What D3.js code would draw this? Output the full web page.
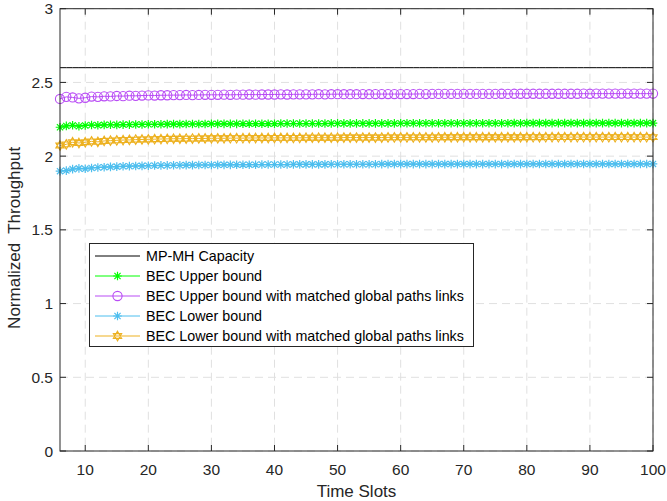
<!DOCTYPE html>
<html><head><meta charset="utf-8">
<script src="https://cdn.jsdelivr.net/npm/d3@7"></script>
<style>body{margin:0;background:#fff}svg{display:block;font-family:"Liberation Sans",Arial,sans-serif}</style>
</head><body><svg id="c" width="667" height="501"></svg>
<script>
const timeSlots = [6,7,8,9,10,11,12,13,14,15,16,17,18,19,20,21,22,23,24,25,26,27,28,29,30,31,32,33,34,35,36,37,38,39,40,41,42,43,44,45,46,47,48,49,50,51,52,53,54,55,56,57,58,59,60,61,62,63,64,65,66,67,68,69,70,71,72,73,74,75,76,77,78,79,80,81,82,83,84,85,86,87,88,89,90,91,92,93,94,95,96,97,98,99,100];
const capacity = 2.6;
const upperMatched = [2.388,2.402,2.398,2.392,2.396,2.404,2.402,2.406,2.405,2.408,
2.407,2.410,2.409,2.411,2.412,2.411,2.413,2.413,2.414,2.414,
2.415,2.414,2.415,2.416,2.416,2.416,2.417,2.416,2.417,2.417,
2.418,2.417,2.418,2.418,2.418,2.419,2.418,2.419,2.419,2.419,
2.419,2.420,2.419,2.420,2.420,2.420,2.420,2.420,2.421,2.420,
2.421,2.421,2.421,2.421,2.421,2.421,2.421,2.422,2.421,2.422,
2.422,2.422,2.422,2.422,2.422,2.422,2.422,2.422,2.422,2.422,
2.423,2.422,2.423,2.423,2.423,2.423,2.423,2.423,2.423,2.423,
2.423,2.423,2.423,2.424,2.423,2.424,2.424,2.424,2.424,2.424,
2.424,2.424,2.424,2.424,2.424];
const upperBound = [2.196,2.205,2.209,2.203,2.208,2.211,2.209,2.212,2.213,2.212,
2.214,2.214,2.215,2.215,2.216,2.216,2.216,2.217,2.217,2.217,
2.218,2.218,2.218,2.218,2.219,2.219,2.219,2.219,2.219,2.220,
2.220,2.220,2.220,2.220,2.220,2.221,2.221,2.221,2.221,2.221,
2.221,2.221,2.221,2.222,2.222,2.222,2.222,2.222,2.222,2.222,
2.222,2.222,2.222,2.222,2.223,2.223,2.223,2.223,2.223,2.223,
2.223,2.223,2.223,2.223,2.223,2.223,2.223,2.223,2.223,2.223,
2.223,2.223,2.224,2.223,2.224,2.224,2.224,2.224,2.224,2.224,
2.224,2.224,2.224,2.224,2.224,2.224,2.224,2.224,2.224,2.224,
2.224,2.224,2.224,2.224,2.224];
const lowerMatched = [2.072,2.080,2.094,2.089,2.094,2.100,2.097,2.103,2.105,2.107,
2.109,2.110,2.112,2.113,2.114,2.115,2.116,2.117,2.118,2.118,
2.119,2.119,2.120,2.120,2.121,2.121,2.121,2.122,2.122,2.122,
2.123,2.123,2.123,2.123,2.124,2.124,2.124,2.124,2.124,2.125,
2.125,2.125,2.125,2.125,2.125,2.126,2.126,2.126,2.126,2.126,
2.126,2.126,2.127,2.127,2.127,2.127,2.127,2.127,2.127,2.127,
2.127,2.128,2.128,2.128,2.128,2.128,2.128,2.128,2.128,2.128,
2.128,2.128,2.128,2.128,2.128,2.129,2.128,2.129,2.129,2.129,
2.129,2.129,2.129,2.129,2.129,2.129,2.129,2.129,2.129,2.129,
2.129,2.129,2.129,2.129,2.129];
const lowerBound = [1.898,1.902,1.912,1.917,1.914,1.920,1.923,1.925,1.927,1.929,
1.931,1.932,1.933,1.934,1.935,1.936,1.937,1.937,1.938,1.938,
1.939,1.939,1.940,1.940,1.940,1.941,1.941,1.941,1.942,1.942,
1.942,1.942,1.943,1.943,1.943,1.943,1.943,1.944,1.944,1.944,
1.944,1.944,1.944,1.945,1.945,1.945,1.945,1.945,1.945,1.945,
1.945,1.946,1.946,1.946,1.946,1.946,1.946,1.946,1.946,1.946,
1.946,1.946,1.946,1.946,1.946,1.946,1.946,1.946,1.946,1.946,
1.946,1.946,1.947,1.946,1.947,1.947,1.947,1.947,1.947,1.947,
1.947,1.947,1.947,1.947,1.947,1.947,1.947,1.947,1.947,1.947,
1.947,1.947,1.947,1.947,1.947];
const xTicks = [10,20,30,40,50,60,70,80,90,100];
const yTicks = [0,0.5,1,1.5,2,2.5,3];
const legendLabels = ["MP-MH Capacity","BEC Upper bound","BEC Upper bound with matched global paths links","BEC Lower bound","BEC Lower bound with matched global paths links"];

const svg = d3.select("#c");
const L=60, R=653, T=8.7, B=451;
const x = d3.scaleLinear().domain([6,100]).range([L,R]);
const y = d3.scaleLinear().domain([0,3]).range([B,T]);
const axisCol = "#262626";

// grid
const g = svg.append("g");
g.selectAll(".gx").data(xTicks).enter().append("line")
 .attr("x1",d=>x(d)).attr("x2",d=>x(d)).attr("y1",T).attr("y2",B)
 .attr("stroke","#e0e0e0").attr("stroke-width",1).attr("stroke-dasharray","8,5");
g.selectAll(".gy").data(yTicks).enter().append("line")
 .attr("x1",L).attr("x2",R).attr("y1",d=>y(d)).attr("y2",d=>y(d))
 .attr("stroke","#e0e0e0").attr("stroke-width",1).attr("stroke-dasharray","8,5");

// series
const series = [
 {name:legendLabels[0], vals: timeSlots.map(()=>capacity), color:"#000000", marker:null},
 {name:legendLabels[1], vals: upperBound, color:"#00ff00", marker:"asterisk"},
 {name:legendLabels[2], vals: upperMatched, color:"#b94cf5", marker:"circle"},
 {name:legendLabels[3], vals: lowerBound, color:"#4dbeee", marker:"asterisk"},
 {name:legendLabels[4], vals: lowerMatched, color:"#edb120", marker:"hexagram"}
];
const line = d3.line().x(d=>x(d[0])).y(d=>y(d[1]));

function drawMarker(sel, type, cx, cy, color){
  if(type==="circle"){
    sel.append("circle").attr("cx",cx).attr("cy",cy).attr("r",4.6)
      .attr("fill","none").attr("stroke",color).attr("stroke-width",1.1);
  } else if(type==="asterisk"){
    const s=4.3, d=3.1;
    const p=`M${cx-s},${cy}L${cx+s},${cy}M${cx},${cy-s}L${cx},${cy+s}M${cx-d},${cy-d}L${cx+d},${cy+d}M${cx-d},${cy+d}L${cx+d},${cy-d}`;
    sel.append("path").attr("d",p).attr("stroke",color).attr("stroke-width",1.2).attr("fill","none");
  } else if(type==="hexagram"){
    const r=4.8;
    const t1=[0,1,2].map(i=>{const a=-Math.PI/2+i*2*Math.PI/3;return [cx+r*Math.cos(a),cy+r*Math.sin(a)];});
    const t2=[0,1,2].map(i=>{const a=Math.PI/2+i*2*Math.PI/3;return [cx+r*Math.cos(a),cy+r*Math.sin(a)];});
    sel.append("path").attr("d","M"+t1.join("L")+"Z M"+t2.join("L")+"Z")
      .attr("stroke",color).attr("stroke-width",1.1).attr("fill","none");
  }
}

const sg = svg.append("g");
series.forEach(s=>{
  const pts = timeSlots.map((t,i)=>[t,s.vals[i]]);
  sg.append("path").datum(pts).attr("d",line).attr("fill","none")
    .attr("stroke",s.color).attr("stroke-width",1);
  if(s.marker){
    const mg = sg.append("g");
    pts.forEach(p=>drawMarker(mg,s.marker,x(p[0]),y(p[1]),s.color));
  }
});

// axes box
const ax = svg.append("g").attr("font-size","15.5px").attr("fill",axisCol);
ax.append("rect").attr("x",L).attr("y",T).attr("width",R-L).attr("height",B-T)
  .attr("fill","none").attr("stroke",axisCol).attr("stroke-width",1);
const tl=6;
xTicks.forEach(t=>{
  ax.append("line").attr("x1",x(t)).attr("x2",x(t)).attr("y1",B).attr("y2",B-tl).attr("stroke",axisCol);
  ax.append("line").attr("x1",x(t)).attr("x2",x(t)).attr("y1",T).attr("y2",T+tl).attr("stroke",axisCol);
  ax.append("text").attr("x",x(t)).attr("y",B+24).attr("text-anchor","middle").text(t);
});
yTicks.forEach(t=>{
  ax.append("line").attr("x1",L).attr("x2",L+tl).attr("y1",y(t)).attr("y2",y(t)).attr("stroke",axisCol);
  ax.append("line").attr("x1",R).attr("x2",R-tl).attr("y1",y(t)).attr("y2",y(t)).attr("stroke",axisCol);
  ax.append("text").attr("x",L-7).attr("y",y(t)+5.5).attr("text-anchor","end").text(t);
});
svg.append("text").attr("x",(L+R)/2).attr("y",497).attr("text-anchor","middle")
  .attr("font-size","17px").attr("fill",axisCol).text("Time Slots");
svg.append("text").attr("transform",`translate(20,${(T+B)/2+8}) rotate(-90)`).attr("text-anchor","middle")
  .attr("font-size","17px").attr("fill",axisCol).attr("xml:space","preserve").style("white-space","pre").text("Normalized  Throughput");

// legend
const lg = svg.append("g");
lg.append("rect").attr("x",89.5).attr("y",243.5).attr("width",384).attr("height",103)
  .attr("fill","#fff").attr("stroke",axisCol).attr("stroke-width",1);
series.forEach((s,i)=>{
  const cy = 256 + i*20;
  lg.append("line").attr("x1",95).attr("x2",140).attr("y1",cy).attr("y2",cy).attr("stroke",s.color).attr("stroke-width",1);
  if(s.marker) drawMarker(lg,s.marker,117.5,cy,s.color);
  lg.append("text").attr("x",146).attr("y",cy+5).attr("font-size","14.3px").attr("fill","#000").text(s.name);
});
</script></body></html>
